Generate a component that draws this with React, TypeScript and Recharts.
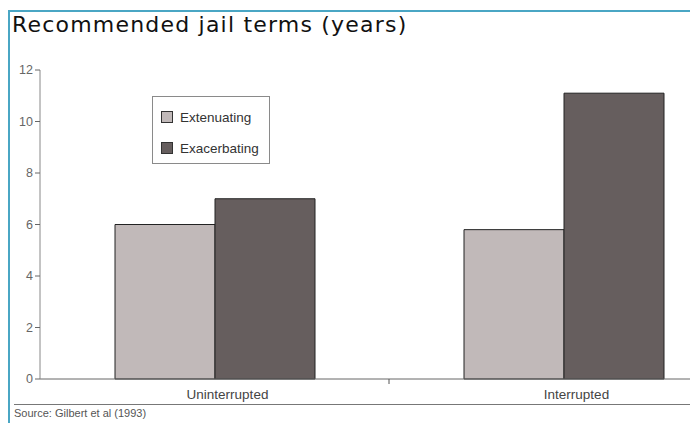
import React from "react";
import { BarChart, Bar, XAxis, YAxis } from "recharts";

const categories = ["Uninterrupted", "Interrupted"];
const seriesNames = ["Extenuating", "Exacerbating"];
const extenuating = [6.0, 5.8];
const exacerbating = [7.0, 11.1];
const yTicks = [0, 2, 4, 6, 8, 10, 12];

const data = categories.map((c, i) => ({
  name: c,
  Extenuating: extenuating[i],
  Exacerbating: exacerbating[i],
}));

const LIGHT = "#c1b9b9";
const DARK = "#665e5e";
const seriesColors = [LIGHT, DARK];
const FONT = "'Liberation Sans', Arial, sans-serif";

const XTick = (props: any) => {
  const { x, y, payload, index } = props;
  const off = payload && payload.offset ? payload.offset : 0;
  return (
    <g>
      {index > 0 && (
        <line x1={x - off} x2={x - off} y1={y - 8} y2={y - 3} stroke="#555" strokeWidth={1} />
      )}
      <text
        x={x + 13}
        y={y + 12}
        textAnchor="middle"
        fontFamily={FONT}
        fontSize={13.5}
        fill="#444"
      >
        {payload.value}
      </text>
    </g>
  );
};

const LegendBox = () => (
  <div
    style={{
      position: "absolute",
      left: 152,
      top: 96,
      width: 116,
      height: 66,
      border: "1px solid #8a8a8a",
      background: "#fff",
      fontFamily: FONT,
      fontSize: 13.5,
      color: "#333",
    }}
  >
    {seriesNames.map((name, i) => (
      <div
        key={name}
        style={{
          position: "absolute",
          left: 8,
          top: 14 + i * 31,
          display: "flex",
          alignItems: "center",
          height: 12,
        }}
      >
        <span
          style={{
            display: "inline-block",
            width: 10,
            height: 10,
            border: "1px solid #333",
            background: seriesColors[i],
            marginRight: 7,
          }}
        />
        <span>{name}</span>
      </div>
    ))}
  </div>
);

export default function App() {
  return (
    <div
      style={{
        position: "fixed",
        left: 0,
        top: 0,
        width: 690,
        height: 423,
        overflow: "hidden",
        background: "#fff",
      }}
    >
      <div style={{ position: "absolute", left: 8, top: 10, width: 682, height: 2, background: "#4aa6c4" }} />
      <div style={{ position: "absolute", left: 8, top: 10, width: 2, height: 413, background: "#4aa6c4" }} />
      <div
        style={{
          position: "absolute",
          left: 12,
          top: 10,
          fontFamily: "'DejaVu Sans', sans-serif",
          fontSize: 22,
          letterSpacing: 1.2,
          color: "#111",
          whiteSpace: "nowrap",
          lineHeight: "30px",
        }}
      >
        Recommended jail terms (years)
      </div>
      <div style={{ position: "absolute", left: 0, top: 0 }}>
        <BarChart
          width={738}
          height={423}
          data={data}
          margin={{ top: 70, right: 0, bottom: 14, left: 0 }}
          barGap={0}
          barSize={100}
        >
          <XAxis
            dataKey="name"
            height={30}
            axisLine={{ stroke: "#666" }}
            tickLine={false}
            tick={<XTick />}
            interval={0}
          />
          <YAxis
            width={40}
            domain={[0, 12]}
            ticks={yTicks}
            axisLine={{ stroke: "#888" }}
            tickLine={{ stroke: "#666" }}
            tickSize={5}
            tick={{ fontFamily: FONT, fontSize: 12.5, fill: "#666" }}
          />
          <Bar dataKey="Extenuating" fill={LIGHT} stroke="#222" strokeWidth={1} isAnimationActive={false} />
          <Bar dataKey="Exacerbating" fill={DARK} stroke="#222" strokeWidth={1} isAnimationActive={false} />
        </BarChart>
      </div>
      <LegendBox />
      <div style={{ position: "absolute", left: 14, top: 404, width: 676, height: 1, background: "#777" }} />
      <div
        style={{
          position: "absolute",
          left: 14,
          top: 407,
          fontFamily: FONT,
          fontSize: 11,
          color: "#555",
          whiteSpace: "nowrap",
        }}
      >
        Source: Gilbert et al (1993)
      </div>
    </div>
  );
}
